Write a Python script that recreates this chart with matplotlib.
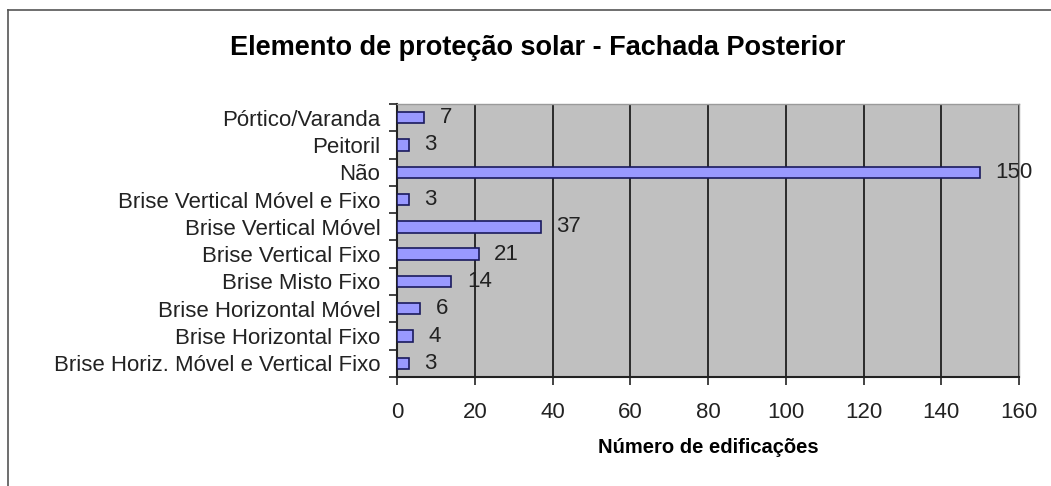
import numpy as np
import matplotlib.pyplot as plt
from matplotlib.lines import Line2D

plt.rcParams['font.family'] = ['Liberation Sans', 'DejaVu Sans']

BAR_COLOR = '#9999ff'
EDGE_COLOR = '#1a1a5e'
BG_COLOR = '#c0c0c0'

categories = ['Brise Horiz. Móvel e Vertical Fixo', 'Brise Horizontal Fixo',
              'Brise Horizontal Móvel', 'Brise Misto Fixo', 'Brise Vertical Fixo',
              'Brise Vertical Móvel', 'Brise Vertical Móvel e Fixo', 'Não',
              'Peitoril', 'Pórtico/Varanda']
values = [3, 4, 6, 14, 21, 37, 3, 150, 3, 7]
xticks = [0, 20, 40, 60, 80, 100, 120, 140, 160]

fig = plt.figure(figsize=(10.51, 4.86), dpi=100)
ax = fig.add_axes([397/1051, 1 - 377/486, 622/1051, 273/486])
ax.set_facecolor(BG_COLOR)

y = np.arange(len(categories))
ax.barh(y, values, height=0.42, color=BAR_COLOR, edgecolor=EDGE_COLOR, linewidth=1.2, zorder=3)
for yi, v in zip(y, values):
    ax.text(v + 4, yi, str(v), va='center', ha='left', fontsize=16, color='#222222', zorder=4)

ax.set_xlim(0, 160)
ax.set_ylim(-0.5, len(categories) - 0.5)
ax.set_xticks(xticks)
ax.set_xticklabels([str(t) for t in xticks], fontsize=16, color='#222222')
ax.set_yticks(y)
ax.set_yticklabels(categories, fontsize=16, color='#222222')
ax.set_yticks(np.arange(len(categories) + 1) - 0.5, minor=True)
ax.tick_params(axis='y', which='major', length=0, pad=12)
ax.tick_params(axis='y', which='minor', length=6, width=1.2, color='#222222')
ax.tick_params(axis='x', length=6, width=1.2, color='#222222', pad=12)
ax.xaxis.grid(True, color='#111111', linewidth=1.2, zorder=0)
ax.set_axisbelow(True)

for side in ['top', 'right']:
    ax.spines[side].set_color('#9a9a9a')
    ax.spines[side].set_linewidth(1)
for side in ['left', 'bottom']:
    ax.spines[side].set_color('#222222')
    ax.spines[side].set_linewidth(1.5)

ax.set_xlabel('Número de edificações', fontsize=14.5, fontweight='bold', labelpad=11)
fig.text(538/1051, 1 - 48/486, 'Elemento de proteção solar - Fachada Posterior',
         ha='center', va='center', fontsize=19.5, fontweight='bold')

# outer chart frame (cut off at right and bottom in the original)
fig.add_artist(Line2D([8/1051, 1.0], [1 - 10/486, 1 - 10/486], color='#555555', linewidth=1.2))
fig.add_artist(Line2D([8/1051, 8/1051], [0.0, 1 - 10/486], color='#555555', linewidth=1.2))

fig.savefig('out.png', dpi=100)
